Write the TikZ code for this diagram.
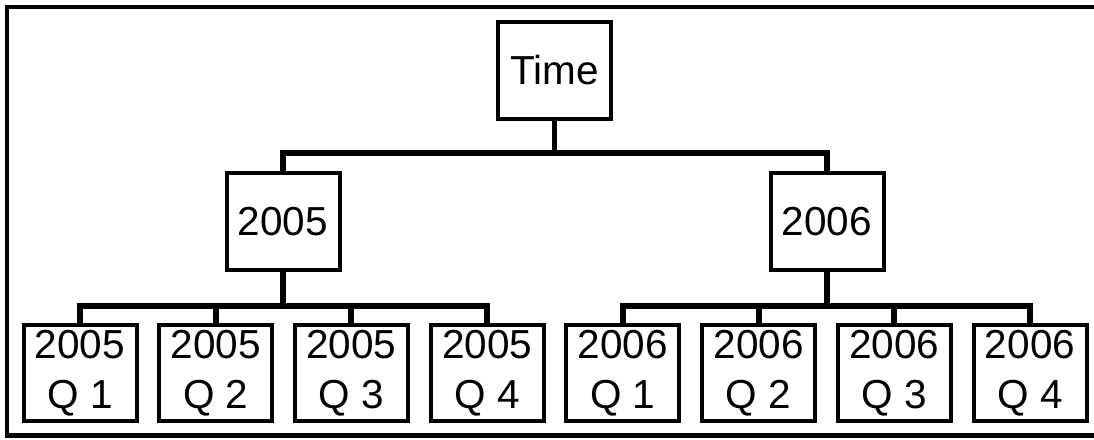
\documentclass[tikz,border=0pt]{standalone}
\usepackage{fontspec}
\setmainfont{Liberation Sans}
\tikzset{
  box/.style={draw=black, line width=4pt, fill=white, minimum width=113pt, minimum height=97pt, inner sep=0pt, align=center, font=\fontsize{40.5}{50}\selectfont},
  qbox/.style={box, minimum height=96pt},
  conn/.style={line width=6pt, draw=black},
  frame/.style={line width=4.5pt, draw=black}
}
\begin{document}
\begin{tikzpicture}[x=1pt,y=-1pt]
\useasboundingbox (0,0) rectangle (1094,439);
\draw[frame] (1100,7) -- (7,7) -- (7,435.5) -- (1100,435.5);
% nodes
\node[box] (time) at (554.5,70.5) {Time};
\node[box] (y2005) at (283,221.5) {2005};
\node[box] (y2006) at (827,221.5) {2006};
\node[qbox] (a1) at (80,373) {2005\\Q 1};
\node[qbox] (a2) at (215.7,373) {2005\\Q 2};
\node[qbox] (a3) at (351.4,373) {2005\\Q 3};
\node[qbox] (a4) at (487.1,373) {2005\\Q 4};
\node[qbox] (b1) at (622.9,373) {2006\\Q 1};
\node[qbox] (b2) at (758.6,373) {2006\\Q 2};
\node[qbox] (b3) at (894.3,373) {2006\\Q 3};
\node[qbox] (b4) at (1030,373) {2006\\Q 4};
% junctions
\coordinate (j0) at (554.5,153);
\coordinate (j1) at (283,306);
\coordinate (j2) at (827,306);
% connectors
\draw[line width=4.5pt] (time.south) -- (j0);
\draw[conn] (j0) -| (y2005.north);
\draw[conn] (j0) -| (y2006.north);
\draw[conn] (y2005.south) -- (j1);
\draw[conn] (j1) -| (a1.north);
\draw[conn] (j1) -| (a2.north);
\draw[conn] (j1) -| (a3.north);
\draw[conn] (j1) -| (a4.north);
\draw[conn] (y2006.south) -- (j2);
\draw[conn] (j2) -| (b1.north);
\draw[conn] (j2) -| (b2.north);
\draw[conn] (j2) -| (b3.north);
\draw[conn] (j2) -| (b4.north);
\end{tikzpicture}
\end{document}
